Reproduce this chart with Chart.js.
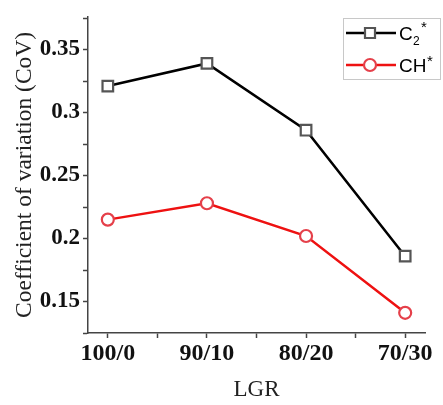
<!DOCTYPE html>
<html>
<head>
<meta charset="utf-8">
<script src="https://cdn.jsdelivr.net/npm/chart.js@4"></script>
<style>
  html, body { margin: 0; padding: 0; background: #fff; }
  #wrap { width: 443px; height: 405px; }
</style>
</head>
<body>
<div id="wrap"><canvas id="myChart" width="443" height="405"></canvas></div>
<script>
const categories = ["100/0", "90/10", "80/20", "70/30"];
const c2Values = [0.321, 0.339, 0.286, 0.186];
const chValues = [0.215, 0.228, 0.202, 0.141];
const yTicks = [0.125, 0.15, 0.175, 0.2, 0.225, 0.25, 0.275, 0.3, 0.325, 0.35, 0.375];
const yLabelled = [0.15, 0.2, 0.25, 0.3, 0.35];

const toPoints = (vals) => vals.map((v, i) => ({ x: i, y: v }));

// legend box drawn inside the plot, top right
const legendBox = {
  id: "legendBox",
  afterDraw: (chart) => {
    const ctx = chart.ctx;
    ctx.save();
    ctx.strokeStyle = "#c8c8c8";
    ctx.lineWidth = 1;
    ctx.strokeRect(343.5, 18.5, 97, 61);

    const rows = [
      { y: 33, line: "#000", mk: "#555", shape: "rect" },
      { y: 65, line: "#ee1111", mk: "#e5404a", shape: "circle" },
    ];
    rows.forEach((r) => {
      ctx.strokeStyle = r.line;
      ctx.lineWidth = 2.5;
      ctx.beginPath();
      ctx.moveTo(346, r.y);
      ctx.lineTo(396, r.y);
      ctx.stroke();
      ctx.fillStyle = "#fff";
      ctx.strokeStyle = r.mk;
      ctx.lineWidth = 2.2;
      ctx.beginPath();
      if (r.shape === "rect") ctx.rect(365, r.y - 5, 10, 10);
      else ctx.arc(370, r.y, 6, 0, Math.PI * 2);
      ctx.fill();
      ctx.stroke();
    });

    ctx.fillStyle = "#000";
    ctx.textBaseline = "alphabetic";
    ctx.font = "19px 'Liberation Sans', Arial, sans-serif";
    ctx.fillText("C", 399, 40);
    ctx.font = "12px 'Liberation Sans', Arial, sans-serif";
    ctx.fillText("2", 413, 45);
    ctx.font = "15px 'Liberation Sans', Arial, sans-serif";
    ctx.fillText("*", 421, 32);
    ctx.font = "19px 'Liberation Sans', Arial, sans-serif";
    ctx.fillText("CH", 399, 72);
    ctx.font = "15px 'Liberation Sans', Arial, sans-serif";
    ctx.fillText("*", 427, 66);
    ctx.restore();
  },
};

const ctx = document.getElementById("myChart");
const myChart = new Chart(ctx, {
  type: "line",
  data: {
    datasets: [
      {
        label: "C2*",
        data: toPoints(c2Values),
        borderColor: "#000",
        borderWidth: 2.5,
        pointStyle: "rect",
        pointRadius: 7.5,
        pointBorderWidth: 2.2,
        pointBorderColor: "#555",
        pointBackgroundColor: "#fff",
      },
      {
        label: "CH*",
        data: toPoints(chValues),
        borderColor: "#ee1111",
        borderWidth: 2.5,
        pointStyle: "circle",
        pointRadius: 6,
        pointBorderWidth: 2.2,
        pointBorderColor: "#e5404a",
        pointBackgroundColor: "#fff",
      },
    ],
  },
  options: {
    responsive: false,
    animation: false,
    layout: { padding: { left: 10, top: 6, right: 18, bottom: 0 } },
    plugins: { legend: { display: false }, tooltip: { enabled: false } },
    scales: {
      x: {
        type: "linear",
        min: -0.2,
        max: 3.2,
        afterBuildTicks: (scale) => {
          scale.ticks = [0, 0.5, 1, 1.5, 2, 2.5, 3].map((v) => ({ value: v }));
        },
        afterFit: (scale) => {
          scale.height = 72;
        },
        ticks: {
          autoSkip: false,
          maxRotation: 0,
          padding: 1,
          color: "#111",
          font: { family: "'Liberation Serif', serif", size: 24, weight: "bold" },
          callback: (v) => (Number.isInteger(v) ? categories[v] : ""),
        },
        grid: { drawOnChartArea: false, tickLength: 5, tickColor: "#444", tickWidth: 1.5 },
        border: { color: "#444", width: 1.5 },
        title: {
          display: true,
          text: "LGR",
          color: "#222",
          padding: { top: 0, bottom: 1 },
          font: { family: "'Liberation Serif', serif", size: 23 },
        },
      },
      y: {
        min: 0.125,
        max: 0.376,
        afterBuildTicks: (scale) => {
          scale.ticks = yTicks.map((v) => ({ value: v }));
        },
        afterFit: (scale) => {
          scale.width = 78;
        },
        ticks: {
          padding: 3,
          color: "#111",
          font: { family: "'Liberation Serif', serif", size: 23, weight: "bold" },
          callback: (v) => {
            const r = +v.toFixed(3);
            return yLabelled.includes(r) ? String(r) : "";
          },
        },
        grid: { drawOnChartArea: false, tickLength: 5, tickColor: "#444", tickWidth: 1.5 },
        border: { color: "#444", width: 1.5 },
        title: {
          display: true,
          text: "Coefficient of variation (CoV)",
          color: "#222",
          padding: { top: 1, bottom: 0 },
          font: { family: "'Liberation Serif', serif", size: 23.5 },
        },
      },
    },
  },
  plugins: [legendBox],
});
</script>
</body>
</html>
